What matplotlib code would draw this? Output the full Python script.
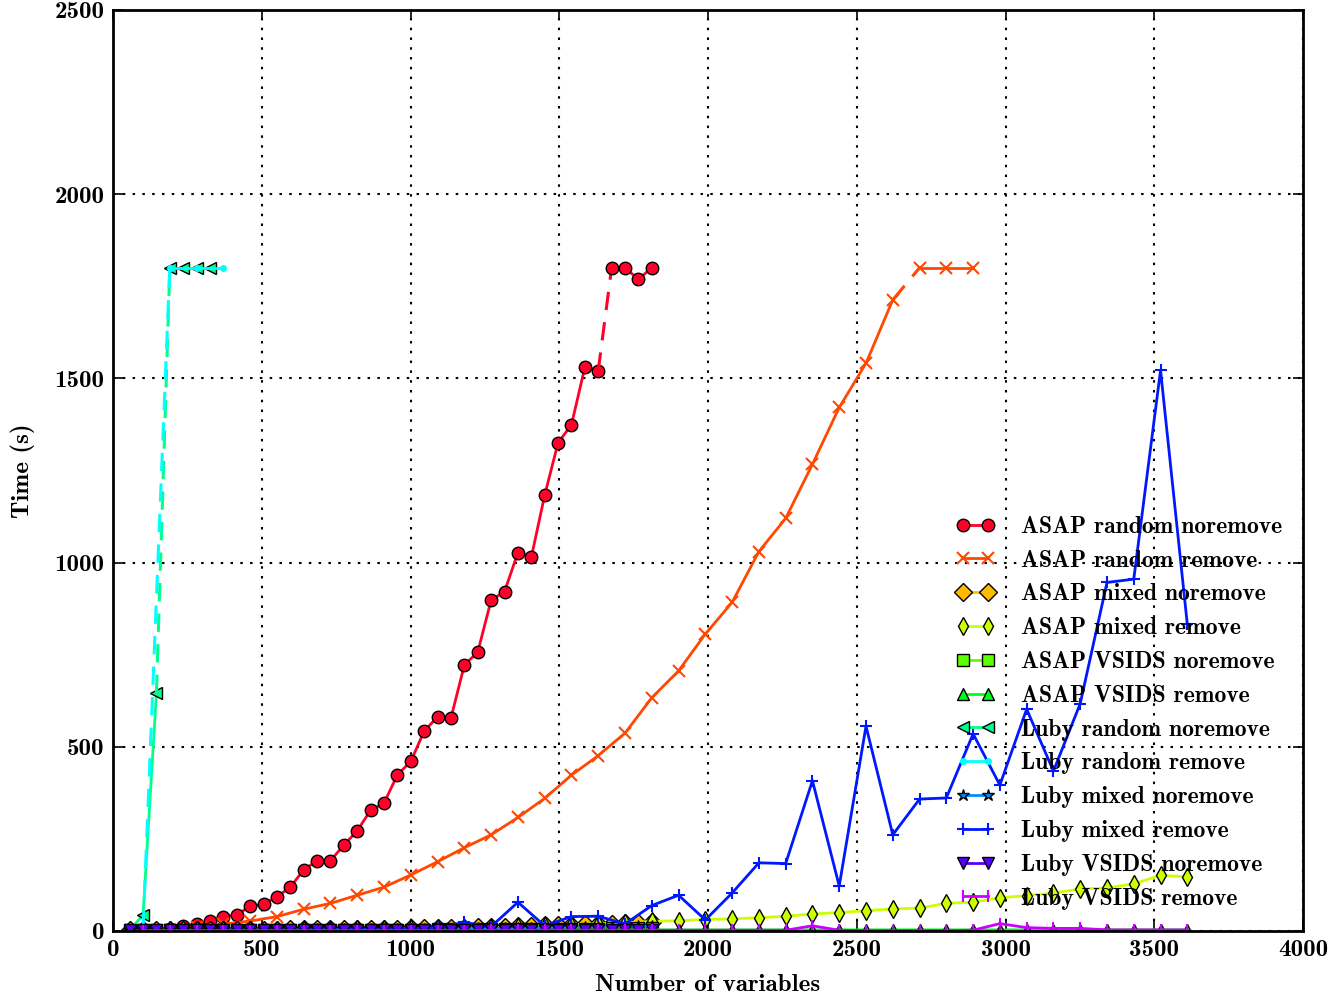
import numpy as np
import matplotlib
matplotlib.use("Agg")
import matplotlib.pyplot as plt

plt.rcParams['font.family'] = ['cmb10', 'DejaVu Serif']
plt.rcParams['axes.unicode_minus'] = False
plt.rcParams['mathtext.fontset'] = 'cm'

TIMEOUT = 1800

# number of variables (noremove runs use every instance, remove runs every second one)
x_all = [56, 101, 146, 191, 236, 281, 326, 371, 416, 461, 506, 551, 596, 641, 686, 731,
         776, 821, 866, 911, 956, 1001, 1046, 1091, 1136, 1181, 1226, 1271, 1316, 1361,
         1406, 1451, 1496, 1541, 1586, 1631, 1676, 1721, 1766, 1811]
x_remove = [101, 191, 281, 371, 461, 551, 641, 731, 821, 911, 1001, 1091, 1181, 1271,
            1361, 1451, 1541, 1631, 1721, 1811, 1901, 1991, 2081, 2171, 2261, 2351, 2441,
            2531, 2621, 2711, 2801, 2891, 2981, 3071, 3161, 3251, 3341, 3431, 3521, 3611]

# times in seconds
asap_random_noremove = [3, 3, 3, 4, 14, 18, 28, 39, 44, 67, 73, 93, 119, 166, 191, 191,
                        233, 272, 328, 347, 424, 460, 543, 581, 578, 722, 757, 898, 921,
                        1027, 1014, 1183, 1325, 1374, 1530, 1521, 1800, 1800, 1769, 1800]
asap_random_remove = [1, 3, 10, 19, 27, 39, 59, 75, 97, 119, 152, 188, 226, 261, 308, 360,
                      423, 476, 537, 633, 706, 806, 892, 1030, 1120, 1267, 1421, 1541, 1713,
                      1800, 1800, 1800]
asap_mixed_noremove = [2, 2, 2, 2, 2, 2, 2, 3, 3, 3, 3, 3, 4, 4, 4, 4, 5, 5, 5, 6,
                       6, 7, 7, 8, 9, 9, 10, 11, 12, 13, 14, 15, 16, 17, 18, 19, 20, 21, 22, 23]
asap_mixed_remove = [2, 2, 2, 2, 3, 3, 3, 3, 4, 4, 5, 6, 8, 9, 12, 14, 17, 20, 22, 26,
                     28, 31, 33, 36, 40, 46, 50, 55, 60, 62, 75, 78, 90, 96, 103, 114,
                     117, 128, 151, 147]
asap_vsids_noremove = [2, 2, 2, 2, 2, 2, 2, 2, 2, 2, 2, 2, 2, 2, 3, 3, 3, 3, 3, 3,
                       3, 3, 3, 4, 4, 4, 4, 4, 5, 5, 5, 5, 6, 6, 6, 6, 7, 7, 7, 8]
asap_vsids_remove = [2, 2, 2, 2, 2, 2, 2, 2, 2, 2, 2, 2, 2, 2, 2, 2, 3, 3, 3, 3,
                     3, 3, 3, 3, 3, 3, 3, 3, 3, 3, 3, 3, 3, 3, 3, 3, 3, 3, 3, 3]
luby_random_noremove = [2, 43, 646, 1800, 1800, 1800, 1800]
luby_random_remove = [5, 1800, 1800, 1800]
luby_mixed_noremove = [2, 2, 2, 2, 2, 2, 2, 2, 3, 3, 3, 3, 3, 3, 4, 4, 4, 4, 4, 5,
                       5, 5, 6, 6, 6, 7, 7, 8, 8, 9, 9, 10, 10, 11, 11, 12, 12, 13, 13, 14]
luby_mixed_remove = [1, 1, 1, 2, 2, 2, 3, 3, 4, 4, 6, 10, 23, 12, 78, 14, 39, 40, 19, 69,
                     97, 30, 103, 185, 183, 408, 122, 556, 261, 358, 361, 535, 396, 602,
                     434, 617, 946, 955, 1522, 832]
luby_vsids_noremove = [2, 2, 2, 2, 2, 2, 2, 2, 2, 2, 2, 2, 2, 2, 2, 2, 2, 2, 2, 2,
                       2, 2, 2, 2, 2, 2, 2, 2, 2, 2, 2, 2, 2, 2, 2, 2, 2, 2, 2, 2]
luby_vsids_remove = [1, 1, 1, 1, 1, 1, 1, 1, 1, 1, 1, 1, 1, 2, 2, 2, 2, 2, 2, 2,
                     2, 2, 2, 2, 2, 14, 2, 1, 1, 1, 1, 2, 20, 9, 7, 7, 3, 3, 3, 3]

series = [
    ("ASAP random noremove", x_all, asap_random_noremove, 'o'),
    ("ASAP random remove", x_remove, asap_random_remove, 'x'),
    ("ASAP mixed noremove", x_all, asap_mixed_noremove, 'D'),
    ("ASAP mixed remove", x_remove, asap_mixed_remove, 'd'),
    ("ASAP VSIDS noremove", x_all, asap_vsids_noremove, 's'),
    ("ASAP VSIDS remove", x_remove, asap_vsids_remove, '^'),
    ("Luby random noremove", x_all, luby_random_noremove, '<'),
    ("Luby random remove", x_remove, luby_random_remove, '.'),
    ("Luby mixed noremove", x_all, luby_mixed_noremove, '*'),
    ("Luby mixed remove", x_remove, luby_mixed_remove, '+'),
    ("Luby VSIDS noremove", x_all, luby_vsids_noremove, 'v'),
    ("Luby VSIDS remove", x_remove, luby_vsids_remove, '|'),
]

colors = plt.cm.gist_rainbow(np.arange(12) / 12.0)

fig = plt.figure(figsize=(13.34, 9.96), dpi=100)
ax = fig.add_axes([0.0847, 0.0653, 0.8921, 0.9247])

for (label, xs, ys, mk), c in zip(series, colors):
    y = np.array(ys, dtype=float)
    x = np.array(xs[:len(y)], dtype=float)
    unfilled = mk in ('x', '+', '|', '.')
    st = dict(color=c, marker=mk, lw=2, ms=9 if mk != '.' else 8,
              mec=c if unfilled else 'k', mew=1.5 if mk in ('x', '+', '|') else 1)
    # dashed jump from the last solved instance to the first timeout
    to = np.nonzero(y >= TIMEOUT)[0]
    if len(to):
        i = to[0]
        ax.plot(x[:i], y[:i], label=label, **st)
        ax.plot(x[i - 1:i + 1], y[i - 1:i + 1], color=c, lw=2.2, ls=(0, (6, 4)))
        ax.plot(x[i:], y[i:], **st)
    else:
        ax.plot(x, y, label=label, **st)

ax.set_xlim(0, 4000)
ax.set_ylim(0, 2500)
ax.set_xticks(np.arange(0, 4001, 500))
ax.set_yticks(np.arange(0, 2501, 500))
ax.grid(True, color='k', ls=(0, (1.2, 3.5)), lw=1.5)
ax.tick_params(direction='in', top=True, right=True, length=7, width=1.2,
               labelsize=18, pad=6)
for s in ax.spines.values():
    s.set_linewidth(2)

ax.set_xlabel("Number of variables", fontsize=18, labelpad=9)
ax.set_ylabel("Time (s)", fontsize=18, labelpad=14)

ax.legend(loc='lower right', bbox_to_anchor=(1.0, 0.0), frameon=False, numpoints=2,
          fontsize=17, handlelength=1.65, labelspacing=0.5, handletextpad=1.1)

fig.savefig("out.png", dpi=100)
